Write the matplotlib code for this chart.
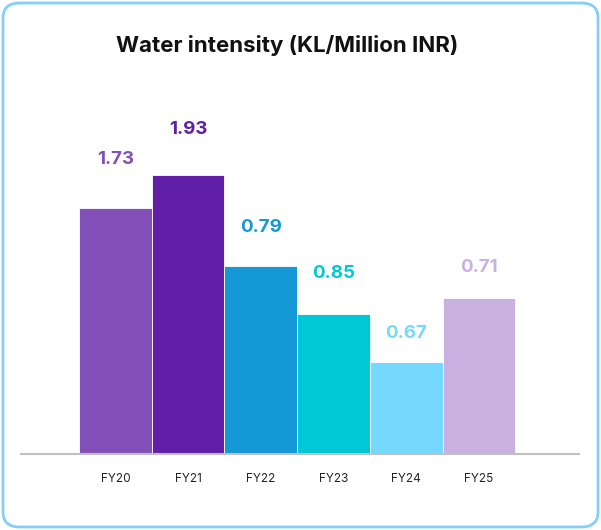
import matplotlib
matplotlib.use("Agg")
import matplotlib.pyplot as plt
from matplotlib.patches import FancyBboxPatch

# data
years = ["FY20", "FY21", "FY22", "FY23", "FY24", "FY25"]
values = [1.73, 1.93, 0.79, 0.85, 0.67, 0.71]
# drawn bar heights (the picture is not to scale, so heights are read separately)
bar_heights = [2.455, 2.79, 1.875, 1.395, 0.915, 1.555]
label_gap = [0.49, 0.455, 0.39, 0.40, 0.28, 0.31]
colors = ["#8250b8", "#601fa6", "#1598d6", "#00c8d6", "#74d9fc", "#c8b0e0"]

plt.rcParams['font.family'] = ['Inter', 'DejaVu Sans']

fig = plt.figure(figsize=(6.01, 5.30), dpi=100, facecolor="white")

# rounded frame
frame = FancyBboxPatch((3/601, 3/530), 595/601, 524/530,
                       boxstyle="round,pad=0,rounding_size=0.028",
                       transform=fig.transFigure, facecolor="none",
                       edgecolor="#82cff8", linewidth=2, zorder=5)
fig.patches.append(frame)

fig.text(287/601, 1 - 45/530, "Water intensity (KL/Million INR)",
         ha="center", va="center", fontsize=16, fontweight="bold", color="#111111")

ax = fig.add_axes([21/601, 76.5/530, 558/601, 353.5/530])
ax.set_facecolor("none")
x = list(range(len(years)))
ax.bar(x, bar_heights, width=1.0, color=colors, edgecolor="white", linewidth=0.6)

for i, v in enumerate(values):
    ax.text(x[i], bar_heights[i] + label_gap[i], f"{v:.2f}", ha="center", va="center",
            fontsize=13.5, fontweight="bold", color=colors[i])

ax.set_xlim((21 - 115.35) / 72.7, (579 - 115.35) / 72.7)
ax.set_ylim(0, 3.535)
for s in ["top", "right", "left"]:
    ax.spines[s].set_visible(False)
ax.spines["bottom"].set_color("#c0c0c0")
ax.spines["bottom"].set_linewidth(1.5)
ax.set_yticks([])
ax.set_xticks(x)
ax.set_xticklabels(years, fontsize=8.5, color="#222222")
ax.tick_params(axis="x", length=0, pad=14)

fig.savefig("out.png", dpi=100)
